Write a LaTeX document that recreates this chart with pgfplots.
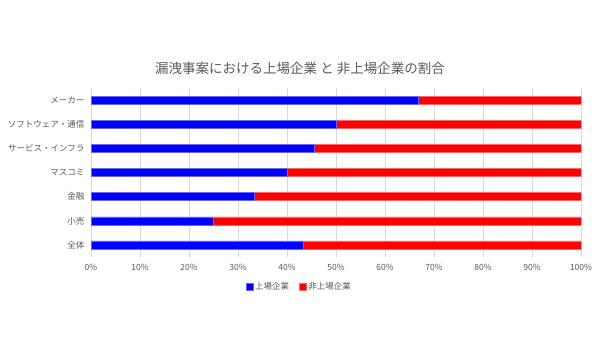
\documentclass[border=0pt]{standalone}
\usepackage{pgfplots}
\pgfplotsset{compat=1.18}
\usepackage{fontspec}
\setmainfont{Noto Sans CJK JP}
\definecolor{txtgray}{HTML}{595959}
\definecolor{gridgray}{HTML}{D9D9D9}
\begin{document}
\begin{tikzpicture}
\path[use as bounding box] (0,0) rectangle (600bp,350bp);
\node[font=\fontsize{13.5bp}{16bp}\selectfont, text=txtgray] at (300bp,282bp) {漏洩事案における上場企業 と 非上場企業の割合};
\begin{axis}[
  at={(91bp,93bp)}, anchor=south west,
  scale only axis, width=490bp, height=169bp,
  xbar stacked, bar width=8bp,
  xmin=0, xmax=100, ymin=-0.5, ymax=6.5,
  y dir=reverse,
  ytick={0,1,2,3,4,5,6},
  yticklabels={メーカー,ソフトウェア・通信,サービス・インフラ,マスコミ,金融,小売,全体},
  xtick={0,10,...,100},
  xticklabel={\pgfmathprintnumber{\tick}\%},
  /pgf/number format/assume math mode=true,
  ticklabel style={font=\fontsize{8.5bp}{10bp}\selectfont, text=txtgray},
  xmajorgrids, grid style={gridgray, line width=0.75bp},
  axis lines*=left,
  x axis line style={draw=none},
  y axis line style={draw=gridgray, line width=0.75bp},
  major tick length=0pt,
  xticklabel style={yshift=-4bp},
  yticklabel style={xshift=-3bp},
  legend style={at={(0.425,-0.175)}, anchor=center, draw=none, legend columns=2,
    font=\fontsize{8.5bp}{10bp}\selectfont, text=txtgray,
    /tikz/every even column/.append style={column sep=8bp}},
  legend image code/.code={\fill[#1] (0bp,-3.5bp) rectangle (7bp,3.5bp);},
]
\addplot[fill=blue, draw=blue!60, line width=0.4bp] coordinates {(66.7,0) (50,1) (45.5,2) (40,3) (33.3,4) (25,5) (43.4,6)};
\addplot[fill=red, draw=red!60, line width=0.4bp] coordinates {(33.3,0) (50,1) (54.5,2) (60,3) (66.7,4) (75,5) (56.6,6)};
\legend{上場企業,非上場企業}
\end{axis}
\end{tikzpicture}
\end{document}
